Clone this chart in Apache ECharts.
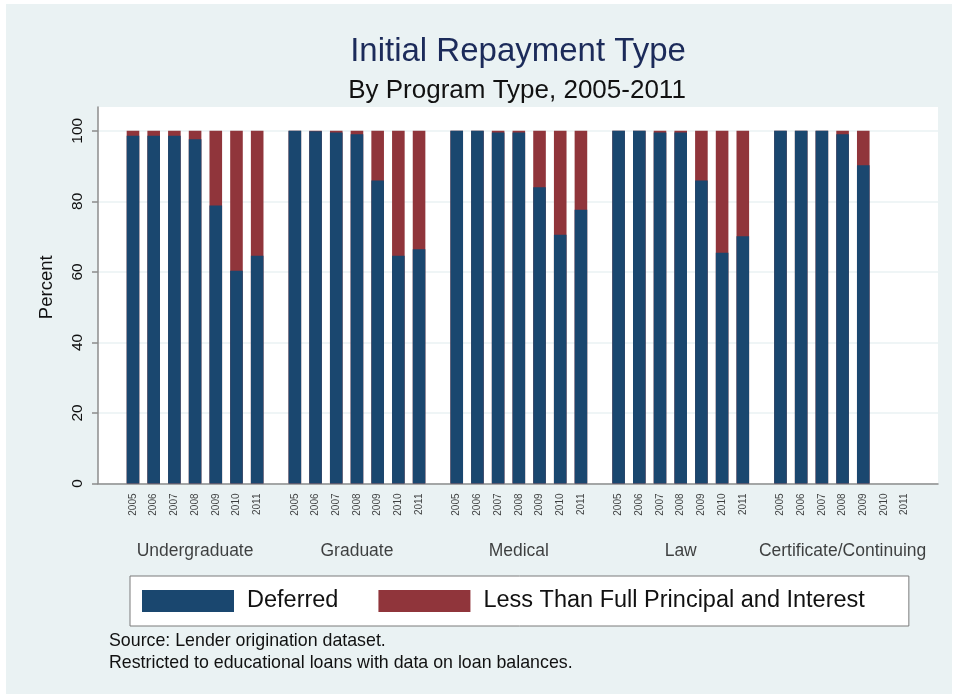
<!DOCTYPE html>
<html>
<head>
<meta charset="utf-8">
<script src="https://cdn.jsdelivr.net/npm/echarts@6/dist/echarts.min.js"></script>
<style>
  html, body { margin: 0; padding: 0; background: #fff; }
  #frame { position: absolute; left: 6px; top: 4px; right: 6px; bottom: 4px; background: #eaf2f3; }
  #chart { position: absolute; left: 0; top: 0; width: 958px; height: 698px; }
</style>
</head>
<body>
<div id="frame"></div>
<div id="chart"></div>
<script>
  /******************/
  //region    //data

  let programs = ['Undergraduate', 'Graduate', 'Medical', 'Law', 'Certificate/Continuing'];
  let years = ['2005', '2006', '2007', '2008', '2009', '2010', '2011'];
  let percentTicks = [0, 20, 40, 60, 80, 100];

  let deferredUndergraduate = [98.6, 98.6, 98.6, 97.6, 78.8, 60.3, 64.6];
  let deferredGraduate = [100, 99.9, 99.5, 99.0, 85.9, 64.6, 66.4];
  let deferredMedical = [100, 100, 99.5, 99.5, 84.0, 70.5, 77.6];
  let deferredLaw = [100, 100, 99.5, 99.5, 85.9, 65.4, 70.1];
  let deferredCertificate = [100, 100, 100, 99.0, 90.2, null, null];

  let lessUndergraduate = [1.4, 1.4, 1.4, 2.4, 21.2, 39.7, 35.4];
  let lessGraduate = [0, 0.1, 0.5, 1.0, 14.1, 35.4, 33.6];
  let lessMedical = [0, 0, 0.5, 0.5, 16.0, 29.5, 22.4];
  let lessLaw = [0, 0, 0.5, 0.5, 14.1, 34.6, 29.9];
  let lessCertificate = [0, 0, 0, 1.0, 9.8, null, null];

  //endregion

  /******************/
  //region    //layout helpers

  let deferredByProgram = [deferredUndergraduate, deferredGraduate, deferredMedical, deferredLaw, deferredCertificate];
  let lessByProgram = [lessUndergraduate, lessGraduate, lessMedical, lessLaw, lessCertificate];
  let groupStep = 7.82;   // slots per program block (7 bars + gap)

  function slot(g, y) {
    return g * groupStep + y;
  }

  // deferred bars sit at the base, the "less" part is drawn on top of them
  function deferredData() {
    let out = [];
    deferredByProgram.forEach((vals, g) => {
      vals.forEach((v, y) => {
        if (v !== null) out.push([slot(g, y), v]);
      });
    });
    return out;
  }

  function stackedLessData() {
    let out = [];
    lessByProgram.forEach((vals, g) => {
      vals.forEach((v, y) => {
        if (v !== null) out.push([slot(g, y), deferredByProgram[g][y] + v]);
      });
    });
    return out;
  }

  let yearPoints = [];
  programs.forEach((p, g) => {
    years.forEach((yr, y) => {
      yearPoints.push({value: [slot(g, y), 0], name: yr});
    });
  });
  let programPoints = programs.map((p, g) => ({value: [slot(g, 3), 0], name: p}));

  //endregion

  let font = 'Liberation Sans, Arial, sans-serif';
  let chart = echarts.init(document.getElementById('chart'), null, {renderer: 'canvas'});

  let option = {
    animation: false,
    backgroundColor: 'transparent',
    textStyle: {fontFamily: font},
    title: [
      {
        text: 'Initial Repayment Type',
        left: 513, top: 30, textAlign: 'center',
        textStyle: {fontSize: 33, fontWeight: 'normal', color: '#1c2b5a', fontFamily: font}
      },
      {
        text: 'By Program Type, 2005-2011',
        left: 512, top: 73, textAlign: 'center',
        textStyle: {fontSize: 26, fontWeight: 'normal', color: '#111', fontFamily: font}
      },
      {
        text: 'Source: Lender origination dataset.\nRestricted to educational loans with data on loan balances.',
        left: 104, top: 625,
        textStyle: {fontSize: 17.8, lineHeight: 22, fontWeight: 'normal', color: '#111', fontFamily: font}
      }
    ],
    legend: {
      data: ['Deferred', 'Less Than Full Principal and Interest'],
      left: 130, top: 576,
      orient: 'horizontal',
      icon: 'rect',
      itemWidth: 92, itemHeight: 22, itemGap: 40,
      padding: [13, 44, 13, 12],
      backgroundColor: '#fff',
      borderColor: '#7a7a7a', borderWidth: 1,
      textStyle: {fontSize: 23.5, color: '#111', fontFamily: font, padding: [0, 0, 0, 8]}
    },
    grid: {
      left: 98, right: 20, top: 107, bottom: 214.5,
      show: true, backgroundColor: '#fff', borderWidth: 0
    },
    xAxis: {
      type: 'value',
      min: -1.69, max: 38.89,
      axisLine: {show: true, onZero: false, lineStyle: {color: '#8c8c8c', width: 1.5}},
      axisTick: {show: false},
      axisLabel: {show: false},
      splitLine: {show: false}
    },
    yAxis: {
      type: 'value',
      min: 0, max: 106.75, interval: 20,
      name: 'Percent',
      nameLocation: 'middle', nameGap: 42,
      nameTextStyle: {fontSize: 18.5, color: '#111', fontFamily: font, padding: [0, 0, 0, 16]},
      axisLine: {show: true, onZero: false, lineStyle: {color: '#8c8c8c', width: 1.5}},
      axisTick: {show: true, length: 6, customValues: percentTicks, lineStyle: {color: '#8c8c8c', width: 1.5}},
      axisLabel: {rotate: 90, fontSize: 15.5, color: '#111', margin: 12, customValues: percentTicks, fontFamily: font},
      splitLine: {show: true, lineStyle: {color: '#eaf2f3', width: 1.5}}
    },
    series: [
      {
        name: 'Less Than Full Principal and Interest',
        type: 'bar',
        barWidth: 12.6,
        barGap: '-100%',
        itemStyle: {color: '#90353b'},
        data: stackedLessData()
      },
      {
        name: 'Deferred',
        type: 'bar',
        barWidth: 12.6,
        barGap: '-100%',
        itemStyle: {color: '#1a476f'},
        data: deferredData()
      },
      {
        type: 'scatter',
        symbolSize: 0,
        silent: true,
        data: yearPoints,
        label: {
          show: true, position: 'bottom', distance: 10,
          rotate: 90, align: 'right', verticalAlign: 'middle',
          fontSize: 10, color: '#111', fontFamily: font,
          formatter: (p) => p.name
        }
      },
      {
        type: 'scatter',
        symbolSize: 0,
        silent: true,
        data: programPoints,
        label: {
          show: true, position: 'bottom', distance: 59,
          fontSize: 17.5, color: '#111', fontFamily: font,
          formatter: (p) => p.name
        }
      }
    ]
  };

  chart.setOption(option);
</script>
</body>
</html>
